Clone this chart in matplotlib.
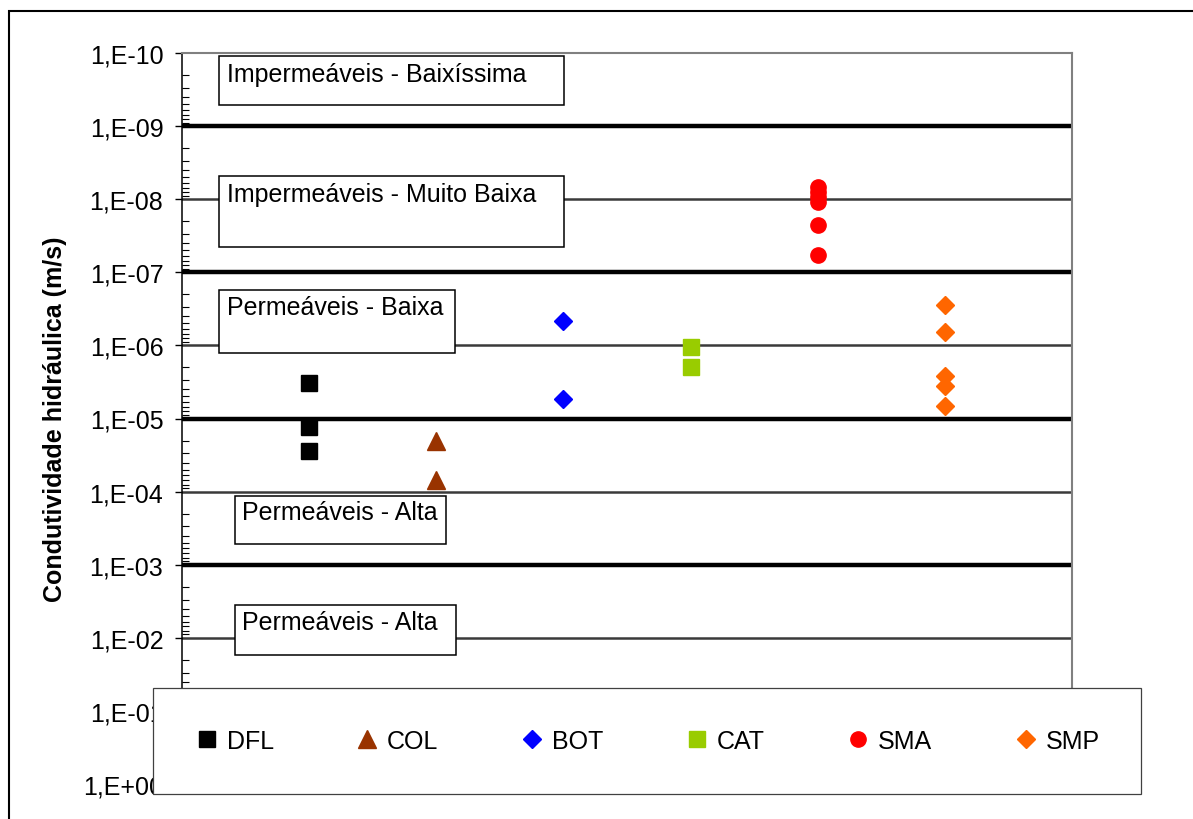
import math
import matplotlib
matplotlib.use("Agg")
import matplotlib.pyplot as plt
from matplotlib.patches import Rectangle
from matplotlib.ticker import FuncFormatter, FixedLocator, NullFormatter

plt.rcParams['font.family'] = ['Liberation Sans', 'DejaVu Sans']

# data: hydraulic conductivity (m/s) per material
series = ['DFL', 'COL', 'BOT', 'CAT', 'SMA', 'SMP']
x_pos = [1, 2, 3, 4, 5, 6]
k_values = {
    'DFL': [3.3e-6, 1.3e-5, 2.8e-5],
    'COL': [2.0e-5, 6.9e-5],
    'BOT': [4.6e-7, 5.4e-6],
    'CAT': [1.05e-6, 1.97e-6],
    'SMA': [6.8e-9, 8.0e-9, 9.3e-9, 1.09e-8, 2.25e-8, 5.8e-8],
    'SMP': [2.77e-7, 6.6e-7, 2.65e-6, 3.6e-6, 6.8e-6],
}
zone_labels = ['Impermeáveis - Baixíssima', 'Impermeáveis - Muito Baixa',
               'Permeáveis - Baixa', 'Permeáveis - Alta', 'Permeáveis - Alta']
decades = [10.0 ** -e for e in range(0, 11)]
thick_levels = [1e-9, 1e-7, 1e-5, 1e-3]
thin_levels = [1e-8, 1e-6, 1e-4, 1e-2]

# styles
markers = {'DFL': ('s', '#000000', 11), 'COL': ('^', '#993300', 12.5),
           'BOT': ('D', '#0000FF', 8.7), 'CAT': ('s', '#99CC00', 11),
           'SMA': ('o', '#FF0000', 11), 'SMP': ('D', '#FF6600', 8.7)}
# zone boxes in axes fraction: (x0, y0, w, h, text_x, text_y)
zone_boxes = [(0.0416, 0.9289, 0.3876, 0.0670, 0.0506, 0.9713),
              (0.0416, 0.7346, 0.3876, 0.0971, 0.0506, 0.8071),
              (0.0416, 0.5896, 0.2652, 0.0862, 0.0506, 0.6525),
              (0.0596, 0.3283, 0.2371, 0.0657, 0.0674, 0.3721),
              (0.0596, 0.1765, 0.2483, 0.0684, 0.0674, 0.2216)]

W, H = 1193, 820
fig = plt.figure(figsize=(W / 100, H / 100), dpi=100)
ax = fig.add_axes([182 / W, 1 - 785 / H, 890 / W, 731 / H])

# a. horizontal reference lines
for lv in thin_levels:
    ax.axhline(lv, color='#3a3a3a', lw=1.8, zorder=1)
for lv in thick_levels:
    ax.axhline(lv, color='black', lw=3.2, zorder=1)

# b. zone labels in boxes
for lab, (x0, y0, w, h, tx, ty) in zip(zone_labels, zone_boxes):
    ax.add_patch(Rectangle((x0, y0), w, h, transform=ax.transAxes,
                           facecolor='white', edgecolor='black', lw=1.1, zorder=3))
    ax.text(tx, ty, lab, transform=ax.transAxes, fontsize=18,
            ha='left', va='center', zorder=4)

# c. scatter points
for name, xp in zip(series, x_pos):
    m, c, ms = markers[name]
    ax.plot([xp] * len(k_values[name]), k_values[name], linestyle='none',
            marker=m, color=c, markeredgecolor=c, markersize=ms,
            label=name, zorder=5)

ax.set_yscale('log')
ax.set_ylim(1, 1e-10)
ax.set_xlim(0, 7)
ax.set_xticks([])
minor = [s * d for d in decades[1:] for s in range(2, 10)]
ax.yaxis.set_major_locator(FixedLocator(decades))
ax.yaxis.set_minor_locator(FixedLocator(minor))
ax.yaxis.set_minor_formatter(NullFormatter())
ax.yaxis.set_major_formatter(FuncFormatter(
    lambda v, p: "1,E%+03d" % round(math.log10(v))))
ax.tick_params(axis='y', which='major', direction='out', length=5,
               width=1, pad=8.5, labelsize=18)
ax.tick_params(axis='y', which='minor', direction='in', length=5, width=0.8)

for s in ['top', 'right']:
    ax.spines[s].set_color('#808080')
    ax.spines[s].set_linewidth(1.5)
ax.spines['left'].set_color('black')
ax.spines['left'].set_linewidth(1.1)
ax.spines['bottom'].set_visible(False)

ax.set_ylabel('Condutividade hidráulica (m/s)', fontsize=18, fontweight='bold')
ax.yaxis.set_label_coords(-0.129, 0.5)

leg = fig.legend(loc='center', ncol=6, mode='expand',
                 bbox_to_anchor=(153 / W, 1 - 796 / H, 988 / W, 108 / H),
                 fontsize=18, frameon=True, fancybox=False, framealpha=1,
                 edgecolor='#404040', borderpad=1.65, handlelength=1.0,
                 handletextpad=0.3, numpoints=1, borderaxespad=0)
leg.get_frame().set_linewidth(0.9)

# outer chart frame
fig.patches.append(Rectangle((9 / W, -0.1), 1.2, 1.1 - 12 / H, transform=fig.transFigure,
                             fill=False, edgecolor='black', lw=1.5))

fig.savefig('out.png', dpi=100)
